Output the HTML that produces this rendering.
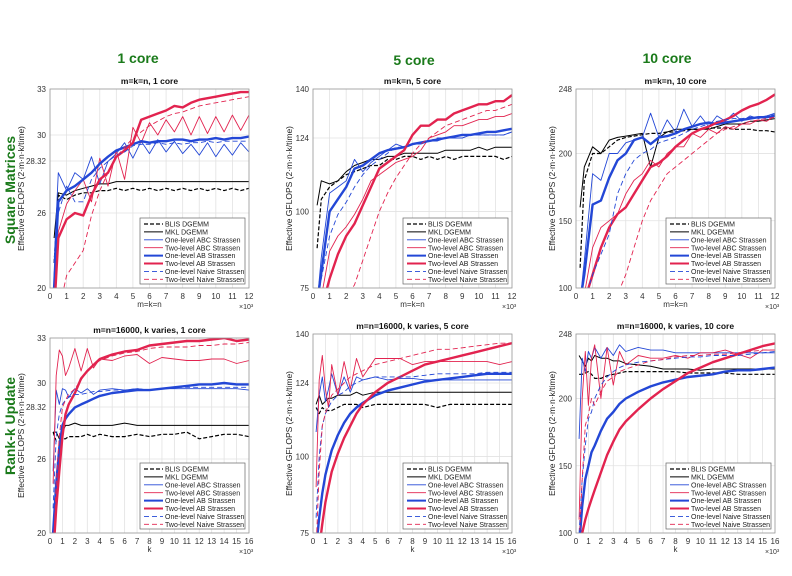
<!DOCTYPE html>
<html><head><meta charset="utf-8"><style>
html,body{margin:0;padding:0;background:#fff;}
svg{display:block;font-family:"Liberation Sans",sans-serif;}
</style></head><body>
<svg id="fig" width="792" height="576" viewBox="0 0 792 576" xmlns="http://www.w3.org/2000/svg">
<rect width="792" height="576" fill="#fff"/>
<text x="138" y="63" font-size="14" font-weight="bold" fill="#1a7a1a" text-anchor="middle">1 core</text>
<text x="414" y="65" font-size="14" font-weight="bold" fill="#1a7a1a" text-anchor="middle">5 core</text>
<text x="667" y="63" font-size="14" font-weight="bold" fill="#1a7a1a" text-anchor="middle">10 core</text>
<text transform="translate(15,190) rotate(-90)" font-size="14" font-weight="bold" fill="#1a7a1a" text-anchor="middle">Square Matrices</text>
<text transform="translate(15,426) rotate(-90)" font-size="14" font-weight="bold" fill="#1a7a1a" text-anchor="middle">Rank-k Update</text>
</svg>
<script>
// ---- data ----
const xTop = [0.25,0.5,1,1.5,2,2.5,3,3.5,4,4.5,5,5.5,6,6.5,7,7.5,8,8.5,9,9.5,10,10.5,11,11.5,12];
const xBot = [0.25,0.5,0.75,1,1.25,1.5,2,2.5,3,3.5,4,5,6,7,8,9,10,11,12,13,14,15,16];
const seriesNames = ["BLIS DGEMM","MKL DGEMM","One-level ABC Strassen","Two-level ABC Strassen","One-level AB Strassen","Two-level AB Strassen","One-level Naive Strassen","Two-level Naive Strassen"];
const yTicks1 = [20,26,28.32,30,33];
const yTicks2 = [75,100,124,140];
const yTicks3 = [100,150,200,248];
const xTicksTop = [0,1,2,3,4,5,6,7,8,9,10,11,12];
const xTicksBot = [0,1,2,3,4,5,6,7,8,9,10,11,12,13,14,15,16];

const p1_blis = [22,26.8,26.6,26.8,26.9,26.9,27.0,27.0,27.1,27.0,27.1,27.0,27.1,27.0,27.1,27.0,27.1,27.0,27.1,27.0,27.1,27.0,27.1,27.0,27.1];
const p1_mkl = [24,26.9,26.8,27.0,27.1,27.2,27.3,27.3,27.4,27.4,27.4,27.4,27.4,27.4,27.4,27.4,27.4,27.4,27.4,27.4,27.4,27.4,27.4,27.4,27.4];
const p1_abc1 = [22,27.8,27.0,27.8,27.5,28.6,27.3,28.3,28.8,29.5,28.5,29.6,28.8,29.7,28.9,29.6,28.8,29.4,28.7,29.5,28.6,29.4,28.7,29.5,28.9];
const p1_abc2 = [18,24.5,26.4,27.0,27.5,26.5,28.5,27.2,29.0,27.5,30.5,29.5,30.8,30.0,31.0,30.2,31.2,30.0,31.2,30.1,31.2,30.2,31.3,30.3,31.3];
const p1_ab1 = [20,26.5,27.0,27.2,27.5,27.8,28.2,28.6,29.0,29.2,29.4,29.6,29.5,29.6,29.6,29.7,29.7,29.6,29.7,29.7,29.8,29.7,29.8,29.8,29.9];
const p1_ab2 = [18,24,25.5,26,25.8,26.8,27.5,27.8,28.6,29.0,29.5,31.0,31.2,31.4,31.6,31.9,31.8,32.1,32.3,32.4,32.5,32.6,32.7,32.8,32.8];
const p1_nv1 = [21,26,27.2,26.5,26.5,27.5,28.0,28.3,28.7,28.9,29.3,29.4,29.4,29.5,29.4,29.5,29.4,29.5,29.5,29.6,29.5,29.6,29.6,29.6,29.6];
const p1_nv2 = [15,18,21,22,23,25.8,27,27.8,28.6,29.2,29.8,30.2,30.6,30.9,31.2,31.4,31.5,31.7,31.9,32.0,32.1,32.2,32.3,32.4,32.5];

const p2_blis = [88,104,108,110,112,113,114,115,115,117,117,118,118,117,118,117,118,117,118,118,118,118,118,117,118];
const p2_mkl = [102,110,109,110,113,115,116,117,117,118,118,119,119,119,119,119,120,120,120,120,121,120,121,121,121];
const p2_abc1 = [70,85,106,108,110,117,113,116,118,120,122,121,122,122,123,123,124,124,124,125,125,125,125,125,126];
const p2_abc2 = [60,72,87,92,95,99,104,110,112,114,116,117,118,120,124,125,126,128,128,129,130,130,131,131,132];
const p2_ab1 = [70,80,100,104,108,114,115,117,119,120,120.5,121,122,122.5,123,123.5,124,124.5,125,125,125.5,126,126,126.5,127];
const p2_ab2 = [60,68,78,86,92,96,102,108,114,116,118,120,125,128,128,130,130,132,133,134,135,135,136,136,138];
const p2_nv1 = [70,78,92,99,103,108,112,115,117,119,121,121,122,122,123,124,124,124,124,125,125,125,125,125,126];
const p2_nv2 = [50,55,65,70,72,76,84,92,100,106,111,115,119,122,124,126,128,129,130,131,132,133,133,134,135];

const p3_blis = [115,180,200,200,205,210,212,213,214,215,215,216,216,217,218,218,219,219,219,218,218,218,217,217,216];
const p3_mkl = [160,190,205,200,210,212,213,214,215,190,212,216,218,218,218,218,218,220,222,222,222,224,224,225,226];
const p3_abc1 = [90,120,185,180,200,200,208,210,212,230,212,225,216,233,220,228,220,228,224,230,224,228,226,228,230];
const p3_abc2 = [80,95,130,145,150,155,170,180,185,195,190,200,205,205,215,212,218,215,220,218,222,222,225,224,228];
const p3_ab1 = [90,110,162,165,182,195,200,210,212,207,212,213,215,218,220,222,223,222,223,224,225,226,227,227,228];
const p3_ab2 = [80,90,110,130,145,155,160,170,180,190,193,198,205,210,215,218,220,223,225,228,232,235,237,240,244];
const p3_nv1 = [80,90,110,125,140,170,185,195,200,203,208,210,212,215,218,220,222,224,225,226,226,227,227,228,229];
const p3_nv2 = [60,70,80,85,90,95,110,130,150,165,175,185,190,195,200,205,210,215,218,220,222,224,225,226,227];

const p4_blis = [27.2,26.8,26.8,26.9,26.9,27.0,27.0,27.0,27.1,27.0,27.1,27.0,27.0,27.1,27.0,27.1,27.1,27.2,26.9,27.0,27.1,27.1,27.0];
const p4_mkl = [27.2,27.2,26.9,27.2,27.5,27.5,27.6,27.5,27.5,27.5,27.5,27.5,27.6,27.5,27.5,27.5,27.5,27.5,27.5,27.5,27.5,27.5,27.5];
const p4_abc1 = [25,29.5,28.5,29.6,29.5,29.0,29.6,29.3,29.6,29.2,29.5,29.6,29.5,29.6,29.5,29.6,29.6,29.6,29.6,29.6,29.6,29.6,29.5];
const p4_abc2 = [24,30.5,32.2,31.8,30.5,31.0,32.3,30.8,32.3,31.0,31.6,31.5,31.8,31.9,31.3,31.7,31.6,31.5,31.5,31.6,31.6,31.3,31.5];
const p4_ab1 = [20,24,26.5,27.5,27.8,28.0,28.3,28.5,28.7,28.9,29.1,29.3,29.4,29.5,29.5,29.6,29.7,29.8,29.9,29.9,30.0,29.9,29.9];
const p4_ab2 = [18,22,25,27,28,28.5,29.3,30.3,30.8,31.2,31.6,31.9,32.1,32.2,32.5,32.6,32.7,32.8,32.8,32.9,33.0,32.8,32.9];
const p4_nv1 = [22,27,28,28.5,28.8,29.0,29.2,29.2,29.3,29.4,29.4,29.5,29.5,29.6,29.5,29.6,29.7,29.7,29.7,29.7,29.7,29.7,29.7];
const p4_nv2 = [18,24,27,28.3,28.8,29.2,29.6,30.2,30.8,31.2,31.5,31.8,32.0,32.1,32.3,32.4,32.4,32.4,32.5,32.5,32.6,32.6,32.7];

const p5_blis = [116,114,116,115,115,115,116,117,117,117,116,117,117,117,117,117,116,117,117,117,117,117,117];
const p5_mkl = [117,120,117,118,119,119,120,120,120,121,120,121,121,121,121,121,121,121,121,121,121,121,121];
const p5_abc1 = [108,120,126,118,122,127,120,126,121,126,125,126,125,125.5,125.5,125,125,125,125,125,125,125,125];
const p5_abc2 = [90,125,133,122,116,130,120,131,122,132,126,132,132,132,130,131,131,131,131,131,131,130,131];
const p5_ab1 = [70,80,88,94,98,102,107,111,114,116,117.5,120,121.5,122.5,123.5,124.5,125,125.5,126,126.5,127,127,127];
const p5_ab2 = [60,70,78,85,90,95,101,106,110,114,117,121,124,126,128,130,131,132,133,134,135,136,137];
const p5_nv1 = [80,100,110,114,116,118,120,121,123,124,125,126,126,126,126,126.5,127,127,127,127,127.5,127.5,127.5];
const p5_nv2 = [70,95,110,114,117,120,122,124,126,127,128,130,131,132,133,134,135,135,135.5,136,136.5,137,137];

const p6_blis = [218,218,219,220,218,215,215,217,218,219,220,220,220,220,220,219,219,219,219,218,218,218,218];
const p6_mkl = [232,228,224,230,228,232,230,230,228,228,226,225,224,222,222,222,221,222,222,222,222,222,222];
const p6_abc1 = [170,230,220,235,230,238,230,238,232,240,235,238,236,236,234,234,234,234,234,234,234,234,234];
const p6_abc2 = [110,200,235,195,230,240,200,238,210,235,225,232,230,230,232,230,234,234,236,233,230,236,236];
const p6_ab1 = [90,120,140,150,160,165,176,185,190,196,200,205,209,212,214,216,217,218,220,221,221,222,223];
const p6_ab2 = [80,100,110,118,125,132,145,158,168,177,183,192,200,207,213,219,223,227,230,233,236,239,241];
const p6_nv1 = [100,140,165,185,190,200,210,216,220,223,225,227,228,229,230,231,231,232,232,232,233,234,235];
const p6_nv2 = [90,140,180,188,200,195,205,213,216,220,222,225,228,229,231,232,232,233,233,234,235,236,236];

// ---- layout ----
const BLUE="#2347d6", RED="#e2234f";
const styles=[
 {c:"#000",w:1.2,d:"4,2"},{c:"#000",w:1,d:""},{c:BLUE,w:0.9,d:""},{c:RED,w:0.9,d:""},
 {c:BLUE,w:2.4,d:""},{c:RED,w:2.4,d:""},{c:BLUE,w:0.9,d:"5,3"},{c:RED,w:0.9,d:"5,3"}];
const panels=[
 {id:1,L:50,R:249,T:89,B:288,xmax:12,xs:xTop,xt:xTicksTop,yt:yTicks1,yLab:["20","26","28.32","30","33"],ypx:[288,213,161,135,89],title:"m=k=n, 1 core",xl:"m=k=n",series:[p1_blis,p1_mkl,p1_abc1,p1_abc2,p1_ab1,p1_ab2,p1_nv1,p1_nv2],ylx:24},
 {id:2,L:313,R:512,T:89,B:288,xmax:12,xs:xTop,xt:xTicksTop,yt:yTicks2,yLab:["75","100","124","140"],title:"m=k=n, 5 core",xl:"m=k=n",series:[p2_blis,p2_mkl,p2_abc1,p2_abc2,p2_ab1,p2_ab2,p2_nv1,p2_nv2],ylx:292},
 {id:3,L:576,R:775,T:89,B:288,xmax:12,xs:xTop,xt:xTicksTop,yt:yTicks3,yLab:["100","150","200","248"],title:"m=k=n, 10 core",xl:"m=k=n",series:[p3_blis,p3_mkl,p3_abc1,p3_abc2,p3_ab1,p3_ab2,p3_nv1,p3_nv2],ylx:555},
 {id:4,L:50,R:249,T:338,B:533,xmax:16,xs:xBot,xt:xTicksBot,yt:yTicks1,yLab:["20","26","28.32","30","33"],ypx:[533,459,407,383,338],title:"m=n=16000, k varies, 1 core",xl:"k",series:[p4_blis,p4_mkl,p4_abc1,p4_abc2,p4_ab1,p4_ab2,p4_nv1,p4_nv2],ylx:24},
 {id:5,L:313,R:512,T:334,B:533,xmax:16,xs:xBot,xt:xTicksBot,yt:yTicks2,yLab:["75","100","124","140"],title:"m=n=16000, k varies, 5 core",xl:"k",series:[p5_blis,p5_mkl,p5_abc1,p5_abc2,p5_ab1,p5_ab2,p5_nv1,p5_nv2],ylx:292},
 {id:6,L:576,R:775,T:334,B:533,xmax:16,xs:xBot,xt:xTicksBot,yt:yTicks3,yLab:["100","150","200","248"],title:"m=n=16000, k varies, 10 core",xl:"k",series:[p6_blis,p6_mkl,p6_abc1,p6_abc2,p6_ab1,p6_ab2,p6_nv1,p6_nv2],ylx:555}
];
const NS="http://www.w3.org/2000/svg";
const svg=document.getElementById("fig");
function mk(tag,attrs,parent){const e=document.createElementNS(NS,tag);for(const k in attrs)e.setAttribute(k,attrs[k]);(parent||svg).appendChild(e);return e;}

panels.forEach(p=>{
 const g=mk("g",{});
 
 
 const xS=v=>p.L+(v/p.xmax)*(p.R-p.L);
 let yS;
 if(p.ypx){
  yS=v=>{const t=p.yt,q=p.ypx;let i=0;while(i<t.length-2&&v>t[i+1])i++;return q[i]+(v-t[i])/(t[i+1]-t[i])*(q[i+1]-q[i]);};
 } else {
  const lo=p.yt[0],hi=p.yt[p.yt.length-1];
  yS=v=>p.B-(v-lo)/(hi-lo)*(p.B-p.T);
 }
 mk("rect",{x:p.L,y:p.T,width:p.R-p.L,height:p.B-p.T,fill:"#fff",stroke:"none"},g);
 p.xt.forEach(t=>{
  const x=xS(t);
  const gl=mk("line",{x1:x,x2:x,y1:p.T,y2:p.B,stroke:"#e2e2e2","stroke-width":0.8},g);
  
  
  const tl=mk("text",{x:x,y:p.B+11,"font-size":8,"text-anchor":"middle",fill:"#333"},g);
  tl.textContent=t;
  
  
 });
 p.yt.forEach((t,i)=>{
  const y=yS(t);
  const gl=mk("line",{x1:p.L,x2:p.R,y1:y,y2:y,stroke:"#e2e2e2","stroke-width":0.8},g);
  
  
  const tl=mk("text",{x:p.L-4,y:y+3,"font-size":8,"text-anchor":"end",fill:"#333"},g);
  tl.textContent=p.yLab[i];
  
  
 });
 const cp=mk("clipPath",{id:"cp"+p.id},g);
 mk("rect",{x:p.L,y:p.T,width:p.R-p.L,height:p.B-p.T},cp);
 const sg=mk("g",{"clip-path":"url(#cp"+p.id+")"},g);
 p.series.forEach((vals,si)=>{
  const st=styles[si];
  const d=vals.map((v,i)=>(i?"L":"M")+xS(p.xs[i]).toFixed(1)+","+yS(v).toFixed(1)).join("");
  const path=mk("path",{d:d,fill:"none",stroke:st.c,"stroke-width":st.w,"stroke-dasharray":st.d,"stroke-linejoin":"round"},sg);
  
  
 });
 const box=mk("rect",{x:p.L,y:p.T,width:p.R-p.L,height:p.B-p.T,fill:"none",stroke:"#999","stroke-width":0.8},g);
 
 
 const tt=mk("text",{x:(p.L+p.R)/2,y:p.T-5,"font-size":8.5,"font-weight":"bold","text-anchor":"middle",fill:"#111"},g);
 tt.textContent=p.title;
 
 
 const xl=mk("text",{x:(p.L+p.R)/2,y:p.B+19,"font-size":8,"text-anchor":"middle",fill:"#333"},g);
 xl.textContent=p.xl;
 
 
 const ex=mk("text",{x:p.R-10,y:p.B+21,"font-size":7,fill:"#333"},g);
 ex.textContent="×10³";
 
 
 const yl=mk("text",{transform:"translate("+p.ylx+","+((p.T+p.B)/2)+") rotate(-90)","font-size":8.5,"text-anchor":"middle",fill:"#222"},g);
 yl.textContent="Effective GFLOPS (2·m·n·k/time)";
 
 
 // legend
 const lx=p.L+(p.id%3===1?90:90), ly=p.B-70;
 const lg=mk("g",{},g);
 
 
 mk("rect",{x:lx,y:ly,width:105,height:66,fill:"#fff",stroke:"#666","stroke-width":0.7},lg);
 seriesNames.forEach((n,si)=>{
  const st=styles[si], yy=ly+6+si*7.9;
  const e=mk("g",{},lg);
  
  
  mk("line",{x1:lx+4,x2:lx+23,y1:yy,y2:yy,stroke:st.c,"stroke-width":Math.min(st.w,2),"stroke-dasharray":st.d},e);
  const t=mk("text",{x:lx+25,y:yy+2.6,"font-size":7,fill:"#222"},e);
  t.textContent=n;
 });
});
</script>
</body></html>
